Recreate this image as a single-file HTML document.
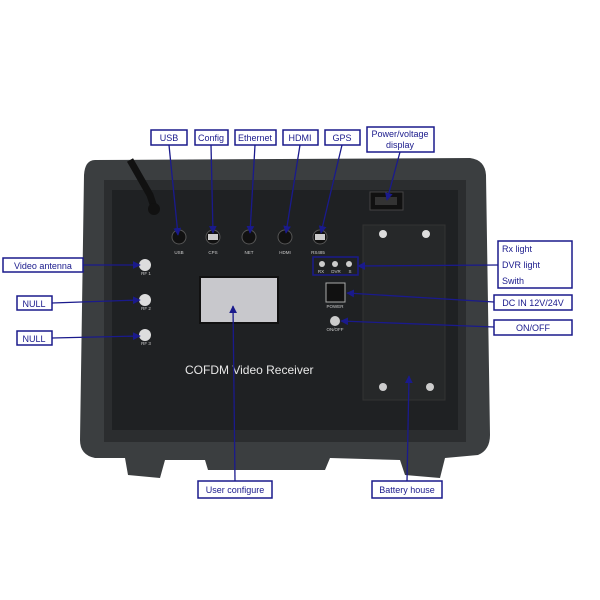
<!DOCTYPE html>
<html><head><style>body{margin:0;background:#fff}svg{display:block}</style></head><body>
<svg width="600" height="600" viewBox="0 0 600 600" xmlns="http://www.w3.org/2000/svg" font-family="Liberation Sans, sans-serif">
<defs><marker id="a" viewBox="0 0 10 10" refX="9" refY="5" markerWidth="6" markerHeight="6" orient="auto"><path d="M0,0L10,5L0,10z" fill="#1a1a8c"/></marker></defs>
<!-- case -->
<path d="M95,160 Q85,160 84,175 L80,440 Q80,455 95,458 L125,458 L128,475 L160,478 L165,460 L205,460 L208,470 L325,470 L330,458 L400,460 L405,475 L440,478 L445,458 L478,455 Q490,450 490,435 L486,175 Q485,160 470,158 Z" fill="#3b3e40"/>
<rect x="104" y="180" width="362" height="262" fill="#2b2d2f"/>
<rect x="112" y="190" width="346" height="240" fill="#1f2123"/>
<!-- cable -->
<path d="M130,160 L150,195 L155,210" stroke="#111" stroke-width="7" fill="none"/>
<circle cx="154" cy="209" r="6" fill="#111"/>
<!-- battery panel -->
<rect x="363" y="225" width="82" height="175" fill="#262829" stroke="#333"/>
<circle cx="383" cy="234" r="4" fill="#ddd"/><circle cx="426" cy="234" r="4" fill="#ddd"/>
<circle cx="383" cy="387" r="4" fill="#ccc"/><circle cx="430" cy="387" r="4" fill="#ccc"/>
<!-- power display -->
<rect x="370" y="192" width="33" height="18" fill="#111" stroke="#444"/>
<rect x="375" y="197" width="22" height="8" fill="#333"/>
<!-- ports -->
<g fill="#111" stroke="#555">
<circle cx="179" cy="237" r="7"/><circle cx="213" cy="237" r="7"/><circle cx="249" cy="237" r="7"/><circle cx="285" cy="237" r="7"/><circle cx="320" cy="237" r="7"/>
</g>
<rect x="208" y="234" width="10" height="6" fill="#ccc"/><rect x="315" y="234" width="10" height="6" fill="#ccc"/>
<g fill="#ccc" font-size="4.5" text-anchor="middle">
<text x="179" y="254">USB</text><text x="213" y="254">CPS</text><text x="249" y="254">NET</text><text x="285" y="254">HDMI</text><text x="318" y="254">RS485</text>
<text x="321" y="273">RX</text><text x="336" y="273">DVR</text><text x="350" y="273">S</text>
<text x="335" y="308">POWER</text><text x="335" y="331">ON/OFF</text>
<text x="146" y="275">RF 1</text><text x="146" y="310">RF 2</text><text x="146" y="345">RF 3</text>
</g>
<circle cx="322" cy="264" r="3" fill="#ccc"/><circle cx="335" cy="264" r="3" fill="#ccc"/><circle cx="349" cy="264" r="3" fill="#ccc"/>
<rect x="326" y="283" width="19" height="19" fill="#111" stroke="#aaa"/>
<circle cx="335" cy="321" r="5" fill="#ccc"/>
<g fill="#ddd"><circle cx="145" cy="265" r="6"/><circle cx="145" cy="300" r="6"/><circle cx="145" cy="335" r="6"/></g>
<!-- screen -->
<rect x="200" y="277" width="78" height="46" fill="#c8c8cc" stroke="#111" stroke-width="2"/>
<text x="185" y="374" fill="#e8e8e8" font-size="12">COFDM Video Receiver</text>
<!-- labels -->
<g fill="#fff" stroke="#1a1a8c" stroke-width="1.5">
<rect x="151" y="130" width="36" height="15"/><rect x="195" y="130" width="33" height="15"/><rect x="235" y="130" width="41" height="15"/><rect x="283" y="130" width="35" height="15"/><rect x="325" y="130" width="35" height="15"/><rect x="367" y="127" width="67" height="25"/>
<rect x="3" y="258" width="80" height="14"/><rect x="17" y="296" width="35" height="14"/><rect x="17" y="331" width="35" height="14"/>
<rect x="498" y="241" width="74" height="47"/><rect x="494" y="295" width="78" height="15"/><rect x="494" y="320" width="78" height="15"/>
<rect x="198" y="481" width="74" height="17"/><rect x="372" y="481" width="70" height="17"/>
<rect x="313" y="257" width="45" height="18" fill="none"/>
</g>
<g fill="#1a1a8c" font-size="9" text-anchor="middle">
<text x="169" y="141">USB</text><text x="211" y="141">Config</text><text x="255" y="141">Ethernet</text><text x="300" y="141">HDMI</text><text x="342" y="141">GPS</text>
<text x="400" y="137">Power/voltage</text><text x="400" y="148">display</text>
<text x="43" y="269">Video antenna</text><text x="34" y="307">NULL</text><text x="34" y="342">NULL</text>
<text x="533" y="306">DC IN 12V/24V</text><text x="533" y="331">ON/OFF</text>
<text x="235" y="493">User configure</text><text x="407" y="493">Battery house</text>
</g>
<g fill="#1a1a8c" font-size="9"><text x="502" y="252">Rx light</text><text x="502" y="268">DVR light</text><text x="502" y="284">Swith</text></g>
<!-- connectors -->
<g stroke="#1a1a8c" stroke-width="1.3" fill="none" marker-end="url(#a)">
<line x1="169" y1="145" x2="178" y2="235"/><line x1="211" y1="145" x2="213" y2="233"/><line x1="255" y1="145" x2="250" y2="233"/><line x1="300" y1="145" x2="286" y2="233"/><line x1="342" y1="145" x2="321" y2="233"/>
<line x1="400" y1="152" x2="387" y2="200"/>
<line x1="83" y1="265" x2="140" y2="265"/><line x1="52" y1="303" x2="140" y2="300"/><line x1="52" y1="338" x2="140" y2="336"/>
<line x1="498" y1="265" x2="358" y2="266"/><line x1="494" y1="302" x2="347" y2="293"/><line x1="494" y1="327" x2="341" y2="321"/>
<line x1="235" y1="481" x2="233" y2="306"/><line x1="407" y1="481" x2="409" y2="376"/>
</g>
</svg>
</body></html>
